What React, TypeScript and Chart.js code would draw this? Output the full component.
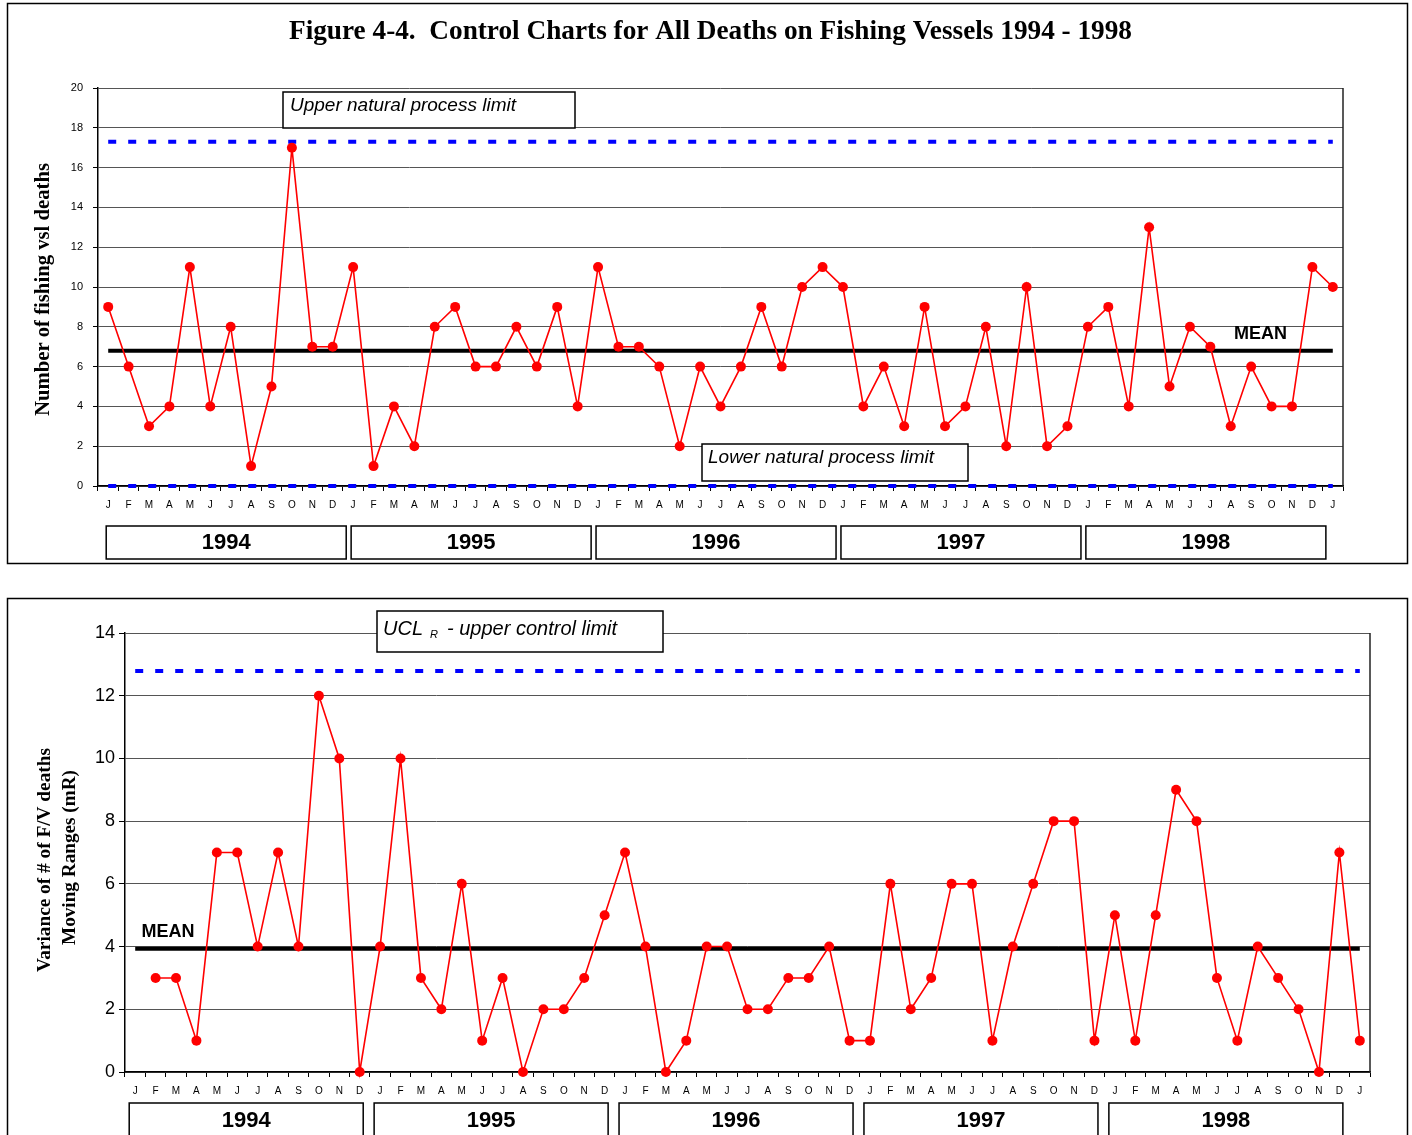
import React, { useEffect, useRef } from "react";
import { Chart, registerables } from "chart.js";

Chart.register(...registerables);

const MONTHS = ["J", "F", "M", "A", "M", "J", "J", "A", "S", "O", "N", "D"];
const YEARS = ["1994", "1995", "1996", "1997", "1998"];
const MONTH_LABELS: string[] = YEARS.flatMap(() => MONTHS).concat(["J"]);

const DEATHS = [
  9, 6, 3, 4, 11, 4, 8, 1, 5, 17, 7, 7,
  11, 1, 4, 2, 8, 9, 6, 6, 8, 6, 9, 4,
  11, 7, 7, 6, 2, 6, 4, 6, 9, 6, 10, 11,
  10, 4, 6, 3, 9, 3, 4, 8, 2, 10, 2, 3,
  8, 9, 4, 13, 5, 8, 7, 3, 6, 4, 4, 11,
  10,
];

const MOVING_RANGES: (number | null)[] = [
  null, 3, 3, 1, 7, 7, 4, 7, 4, 12, 10, 0,
  4, 10, 3, 2, 6, 1, 3, 0, 2, 2, 3, 5,
  7, 4, 0, 1, 4, 4, 2, 2, 3, 3, 4, 1,
  1, 6, 2, 3, 6, 6, 1, 4, 6, 8, 8, 1,
  5, 1, 5, 9, 8, 3, 1, 4, 3, 2, 0, 7,
  1,
];

const DEATHS_MEAN = 6.8;
const DEATHS_UPPER_LIMIT = 17.3;
const DEATHS_LOWER_LIMIT = 0;
const RANGE_MEAN = 3.93;
const RANGE_UCL = 12.79;
const DEATHS_Y_MAX = 20;
const RANGE_Y_MAX = 14;
const Y_STEP = 2;

const TITLE = "Figure 4-4.  Control Charts for All Deaths on Fishing Vessels 1994 - 1998";
const TOP_Y_TITLE = "Number of fishing vsl deaths";
const BOTTOM_Y_TITLE_1 = "Variance of # of F/V deaths";
const BOTTOM_Y_TITLE_2 = "Moving Ranges (mR)";
const UPPER_NPL_LABEL = "Upper natural process limit";
const LOWER_NPL_LABEL = "Lower natural process limit";
const MEAN_LABEL = "MEAN";

const SANS = '"Liberation Sans", Arial, sans-serif';
const SERIF = '"Liberation Serif", "Times New Roman", serif';

function constantLine(v: number) {
  return MONTH_LABELS.map(() => v);
}

function fitText(ctx: CanvasRenderingContext2D, text: string, x: number, y: number, width: number, font: string, rotate = false) {
  ctx.save();
  ctx.font = font;
  const w = ctx.measureText(text).width;
  ctx.translate(x, y);
  if (rotate) ctx.rotate(-Math.PI / 2);
  ctx.scale(width / w, 1);
  ctx.textAlign = "center";
  ctx.fillText(text, 0, 0);
  ctx.restore();
}

function box(ctx: CanvasRenderingContext2D, x: number, y: number, w: number, h: number) {
  ctx.fillStyle = "#fff";
  ctx.fillRect(x, y, w, h);
  ctx.strokeStyle = "#000";
  ctx.lineWidth = 1.5;
  ctx.strokeRect(x, y, w, h);
  ctx.fillStyle = "#000";
}

function rightBorder(chart: any) {
  const { ctx, chartArea: a } = chart;
  ctx.strokeStyle = "#222";
  ctx.lineWidth = 1.5;
  ctx.beginPath();
  ctx.moveTo(a.right, a.top);
  ctx.lineTo(a.right, a.bottom);
  ctx.stroke();
}

function drawTop(chart: any) {
  const ctx: CanvasRenderingContext2D = chart.ctx;
  const xs = chart.scales.x;
  ctx.save();
  ctx.strokeStyle = "#000";
  ctx.lineWidth = 1.5;
  ctx.strokeRect(7.5, 3.5, 1400, 560);
  rightBorder(chart);
  ctx.fillStyle = "#000";
  ctx.textBaseline = "alphabetic";
  fitText(ctx, TITLE, 710.5, 39, 843, `bold 28px ${SERIF}`);
  ctx.textBaseline = "middle";
  fitText(ctx, TOP_Y_TITLE, 44, 289.5, 253, `bold 20px ${SERIF}`, true);
  ctx.textBaseline = "alphabetic";
  ctx.textAlign = "left";
  box(ctx, 283, 92, 292, 36);
  ctx.font = `italic 19px ${SANS}`;
  ctx.fillText(UPPER_NPL_LABEL, 290, 111);
  box(ctx, 702, 444, 266, 37);
  ctx.font = `italic 19px ${SANS}`;
  ctx.fillText(LOWER_NPL_LABEL, 708, 463);
  ctx.font = `bold 18px ${SANS}`;
  ctx.fillText(MEAN_LABEL, 1234, 339);
  YEARS.forEach((yr, i) => {
    const left = xs.getPixelForValue(12 * i) - 2;
    box(ctx, left, 526, 240, 33);
    ctx.font = `bold 22px ${SANS}`;
    ctx.textAlign = "center";
    ctx.fillText(yr, left + 120, 549);
    ctx.textAlign = "left";
  });
  ctx.restore();
}

function drawBottom(chart: any) {
  const ctx: CanvasRenderingContext2D = chart.ctx;
  const xs = chart.scales.x;
  ctx.save();
  ctx.strokeStyle = "#000";
  ctx.lineWidth = 1.5;
  ctx.strokeRect(7.5, 8.5, 1400, 600);
  rightBorder(chart);
  ctx.fillStyle = "#000";
  ctx.textBaseline = "middle";
  fitText(ctx, BOTTOM_Y_TITLE_1, 45.5, 270, 224, `bold 19px ${SERIF}`, true);
  fitText(ctx, BOTTOM_Y_TITLE_2, 70, 267.5, 175, `bold 19px ${SERIF}`, true);
  ctx.textBaseline = "alphabetic";
  ctx.textAlign = "left";
  box(ctx, 377, 21, 286, 41);
  ctx.font = `italic 20px ${SANS}`;
  ctx.fillText("UCL", 383, 45);
  ctx.font = `italic 11px ${SANS}`;
  ctx.fillText("R", 430, 48);
  ctx.font = `italic 20px ${SANS}`;
  ctx.fillText("- upper control limit", 447, 45);
  ctx.font = `bold 18px ${SANS}`;
  ctx.fillText(MEAN_LABEL, 141.5, 346.5);
  YEARS.forEach((yr, i) => {
    const left = xs.getPixelForValue(12 * i) - 6;
    box(ctx, left, 513, 234, 45);
    ctx.font = `bold 22px ${SANS}`;
    ctx.textAlign = "center";
    ctx.fillText(yr, left + 117, 537);
    ctx.textAlign = "left";
  });
  ctx.restore();
}

type Opts = {
  series: (number | null)[];
  mean: number;
  limits: number[];
  yMax: number;
  padding: { left: number; right: number; top: number; bottom: number };
  yWidth: number;
  xHeight: number;
  yTickSize: number;
  yTickLen: number;
  yTickPad: number;
  draw: (c: any) => void;
};

function makeChart(canvas: HTMLCanvasElement, o: Opts) {
  const datasets: any[] = [
    {
      data: o.series,
      borderColor: "#ff0000",
      backgroundColor: "#ff0000",
      borderWidth: 1.6,
      pointRadius: 5,
      pointHoverRadius: 5,
      pointBorderWidth: 0,
      pointBackgroundColor: "#ff0000",
      spanGaps: false,
      clip: 8,
      order: 0,
    },
    {
      data: constantLine(o.mean),
      borderColor: "#000",
      borderWidth: 4,
      pointRadius: 0,
      clip: 8,
      order: 1,
    },
    ...o.limits.map((v, i) => ({
      data: constantLine(v),
      borderColor: "#0000ff",
      borderWidth: 4,
      borderDash: [8, 12],
      pointRadius: 0,
      clip: 8,
      order: 2 + i,
    })),
  ];
  return new Chart(canvas, {
    type: "line",
    data: { labels: MONTH_LABELS, datasets },
    options: {
      animation: false,
      responsive: false,
      events: [],
      layout: { padding: o.padding },
      plugins: {
        legend: { display: false },
        tooltip: { enabled: false },
        title: { display: false },
      },
      scales: {
        x: {
          type: "category",
          offset: true,
          grid: {
            display: true,
            drawOnChartArea: false,
            drawTicks: true,
            tickLength: 5,
            color: "#000",
            tickColor: "#000",
            offset: true,
            z: -1,
          },
          border: { display: true, color: "#000", width: 1.5 },
          ticks: {
            autoSkip: false,
            maxRotation: 0,
            minRotation: 0,
            padding: 8,
            color: "#000",
            font: { family: SANS, size: 10 },
          },
          afterFit: (s: any) => {
            s.height = o.xHeight;
          },
        },
        y: {
          min: 0,
          max: o.yMax,
          ticks: {
            stepSize: Y_STEP,
            padding: o.yTickPad,
            color: "#000",
            font: { family: SANS, size: o.yTickSize },
          },
          grid: { color: "#555", tickColor: "#000", tickLength: o.yTickLen, lineWidth: 1, z: -1 },
          border: { color: "#000", width: 1.5 },
          afterFit: (s: any) => {
            s.width = o.yWidth;
          },
        },
      },
    } as any,
    plugins: [{ id: "decor", afterDraw: (c: any) => o.draw(c) }],
  });
}

export default function App() {
  const topRef = useRef<HTMLCanvasElement>(null);
  const botRef = useRef<HTMLCanvasElement>(null);
  useEffect(() => {
    document.body.style.margin = "0";
    document.body.style.overflow = "hidden";
    const c1 = makeChart(topRef.current!, {
      series: DEATHS,
      mean: DEATHS_MEAN,
      limits: [DEATHS_UPPER_LIMIT, DEATHS_LOWER_LIMIT],
      yMax: DEATHS_Y_MAX,
      padding: { left: 0, right: 69, top: 88, bottom: 29 },
      yWidth: 98,
      xHeight: 60,
      yTickSize: 11,
      yTickLen: 5,
      yTickPad: 10,
      draw: drawTop,
    });
    const c2 = makeChart(botRef.current!, {
      series: MOVING_RANGES,
      mean: RANGE_MEAN,
      limits: [RANGE_UCL],
      yMax: RANGE_Y_MAX,
      padding: { left: 0, right: 42, top: 43, bottom: 23 },
      yWidth: 125,
      xHeight: 40,
      yTickSize: 18,
      yTickLen: 6,
      yTickPad: 4,
      draw: drawBottom,
    });
    return () => {
      c1.destroy();
      c2.destroy();
    };
  }, []);
  return (
    <div style={{ position: "relative", width: 1412, height: 1135, overflow: "hidden", background: "#fff" }}>
      <canvas ref={topRef} width={1412} height={575} style={{ position: "absolute", left: 0, top: 0 }} />
      <canvas ref={botRef} width={1412} height={545} style={{ position: "absolute", left: 0, top: 590 }} />
    </div>
  );
}
